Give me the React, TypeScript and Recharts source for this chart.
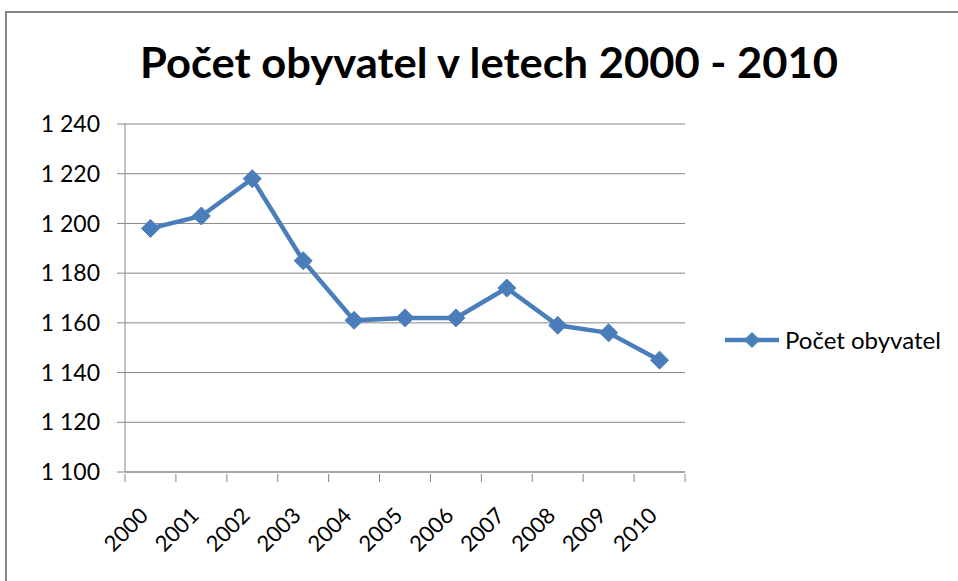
import { LineChart, Line, XAxis, YAxis, CartesianGrid } from 'recharts'

const years = ['2000', '2001', '2002', '2003', '2004', '2005', '2006', '2007', '2008', '2009', '2010']
const population = [1198, 1203, 1218, 1185, 1161, 1162, 1162, 1174, 1159, 1156, 1145]
const yTicks = [1100, 1120, 1140, 1160, 1180, 1200, 1220, 1240]
const seriesName = 'Počet obyvatel'
const title = 'Počet obyvatel v letech 2000 - 2010'

const BLUE = '#4a7ebb'
const GREY = '#868686'
const FONT = 'Lato, "Open Sans", sans-serif'

const PLOT_LEFT = 125
const PLOT_RIGHT = 685
const BAND = (PLOT_RIGHT - PLOT_LEFT) / years.length

const data = years.map((y, i) => ({ year: y, value: population[i] }))

function fmt(v: number) {
  const s = String(v)
  return s.length > 3 ? `${s.slice(0, s.length - 3)} ${s.slice(-3)}` : s
}

function Diamond(props: any) {
  const { cx, cy } = props
  if (cx == null || cy == null) return null
  const r = 9
  return (
    <polygon
      points={`${cx},${cy - r} ${cx + r},${cy} ${cx},${cy + r} ${cx - r},${cy}`}
      fill={BLUE}
      stroke={BLUE}
      strokeWidth={1}
    />
  )
}

function XTick(props: any) {
  const { x, y, payload, index } = props
  const left = x - BAND / 2
  const axisY = y
  const tx = x - 1
  const ty = axisY + 43
  return (
    <g>
      <line x1={left} y1={axisY} x2={left} y2={axisY + 8} stroke={GREY} />
      {index === years.length - 1 && (
        <line x1={x + BAND / 2} y1={axisY} x2={x + BAND / 2} y2={axisY + 8} stroke={GREY} />
      )}
      <text
        x={tx}
        y={ty}
        transform={`rotate(-45 ${tx} ${ty})`}
        textAnchor="end"
        fontSize={22}
        fontFamily={FONT}
        fill="#000"
      >
        {payload.value}
      </text>
    </g>
  )
}

export default function App() {
  return (
    <div style={{ position: 'absolute', left: 0, top: 0, width: 958, height: 581, overflow: 'hidden', background: '#fff' }}>
      <div style={{ position: 'absolute', left: 5, top: 11, width: 1100, height: 1100, border: `2px solid ${GREY}` }} />
      <LineChart
        width={958}
        height={581}
        data={data}
        margin={{ top: 124, right: 958 - PLOT_RIGHT, bottom: 0, left: 0 }}
      >
        <text
          x={489}
          y={78}
          textAnchor="middle"
          fontSize={42}
          fontWeight={700}
          fontFamily={FONT}
          fill="#000"
          textLength={698}
          lengthAdjust="spacingAndGlyphs"
        >
          {title}
        </text>
        <CartesianGrid vertical={false} stroke={GREY} strokeWidth={1} />
        <XAxis
          dataKey="year"
          scale="band"
          interval={0}
          axisLine={{ stroke: GREY }}
          tickLine={false}
          tickSize={0}
          tick={<XTick />}
          height={581 - 472}
        />
        <YAxis
          domain={[1100, 1240]}
          ticks={yTicks}
          interval={0}
          width={PLOT_LEFT}
          axisLine={{ stroke: GREY }}
          tickLine={{ stroke: GREY }}
          tickSize={8}
          tickMargin={17}
          tickFormatter={fmt}
          tick={{ fontSize: 23, fill: '#000', fontFamily: FONT }}
        />
        <Line
          type="linear"
          dataKey="value"
          name={seriesName}
          stroke={BLUE}
          strokeWidth={4.5}
          dot={<Diamond />}
          activeDot={false}
          isAnimationActive={false}
        />
      </LineChart>
      <div style={{ position: 'absolute', left: 722, top: 325, display: 'flex', alignItems: 'center', fontFamily: FONT, fontSize: 24, color: '#000' }}>
        <svg width={60} height={20} style={{ marginRight: 3 }}>
          <line x1={3} y1={10} x2={57} y2={10} stroke={BLUE} strokeWidth={4.5} />
          <polygon points="30,2 38,10 30,18 22,10" fill={BLUE} />
        </svg>
        <span>{seriesName}</span>
      </div>
    </div>
  )
}
